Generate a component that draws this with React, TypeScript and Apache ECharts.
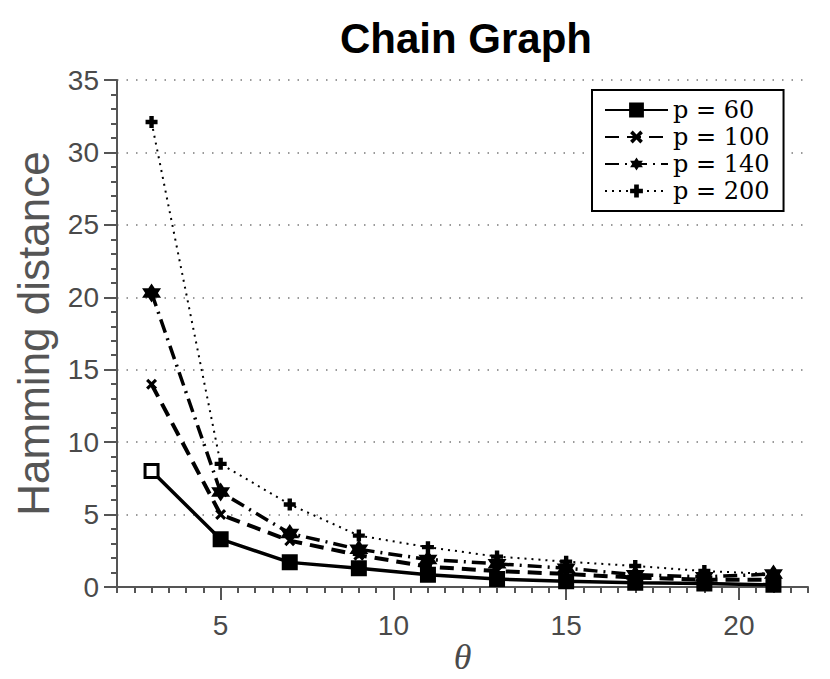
import React, { useEffect, useRef } from "react";
import * as echarts from "echarts";

const thetaValues = [3, 5, 7, 9, 11, 13, 15, 17, 19, 21];
const p60 = [8.0, 3.3, 1.7, 1.3, 0.85, 0.55, 0.4, 0.3, 0.25, 0.15];
const p100 = [14.0, 5.0, 3.2, 2.2, 1.4, 1.1, 0.9, 0.65, 0.5, 0.5];
const p140 = [20.3, 6.55, 3.7, 2.6, 1.9, 1.6, 1.3, 0.85, 0.7, 0.9];
const p200 = [32.1, 8.5, 5.7, 3.55, 2.75, 2.1, 1.75, 1.45, 1.1, 0.9];
const seriesNames = ["p = 60", "p = 100", "p = 140", "p = 200"];
const xMajorTicks = [5, 10, 15, 20];

const HEXAGRAM =
  "path://M0,-10 L2.9,-5 L8.66,-5 L5.8,0 L8.66,5 L2.9,5 L0,10 L-2.9,5 L-8.66,5 L-5.8,0 L-8.66,-5 L-2.9,-5 Z";
const PLUS =
  "path://M-2.2,-6 L2.2,-6 L2.2,-2.2 L6,-2.2 L6,2.2 L2.2,2.2 L2.2,6 L-2.2,6 L-2.2,2.2 L-6,2.2 L-6,-2.2 L-2.2,-2.2 Z";
const CROSS =
  "path://M-6,-3.6 L-3.6,-6 L0,-2.4 L3.6,-6 L6,-3.6 L2.4,0 L6,3.6 L3.6,6 L0,2.4 L-3.6,6 L-6,3.6 L-2.4,0 Z";

const AXIS_GRAY = "#555555";
const LABEL_GRAY = "#4a4a4a";

function pairs(ys: number[]) {
  return thetaValues.map((x, i) => [x, ys[i]]);
}

export default function App() {
  const ref = useRef<HTMLDivElement>(null);
  useEffect(() => {
    if (!ref.current) return;
    const chart = echarts.init(ref.current, null, { renderer: "svg" });
    const labelStyle = {
      fontFamily: "Liberation Sans",
      fontSize: 28,
      color: LABEL_GRAY,
    };
    const squareData = pairs(p60).map((d, i) =>
      i === 0
        ? { value: d, itemStyle: { color: "#ffffff" } }
        : { value: d }
    );
    chart.setOption({
      animation: false,
      backgroundColor: "#ffffff",
      title: {
        text: "Chain Graph",
        left: 335,
        top: 12,
        textStyle: {
          fontFamily: "Liberation Sans",
          fontWeight: "bold",
          fontSize: 42,
          color: "#000000",
        },
      },
      grid: {
        left: 117,
        right: 22,
        top: 80,
        bottom: 92,
        containLabel: false,
        outerBoundsMode: "none",
      },
      legend: {
        orient: "vertical",
        left: 592,
        top: 90,
        backgroundColor: "#ffffff",
        borderColor: "#000000",
        borderWidth: 2,
        borderRadius: 0,
        padding: [7, 14, 7, 12],
        itemGap: 1,
        itemWidth: 63,
        itemHeight: 16,
        data: seriesNames,
        textStyle: {
          fontFamily: "DejaVu Serif",
          fontSize: 24,
          color: "#000000",
          lineHeight: 26,
        },
      },
      xAxis: [
        {
          type: "value",
          min: 2,
          max: 22,
          interval: 0.5,
          position: "bottom",
          axisLine: { onZero: false, lineStyle: { color: AXIS_GRAY, width: 2 } },
          axisTick: { length: 6, lineStyle: { color: AXIS_GRAY, width: 2 } },
          axisLabel: { show: false },
          splitLine: { show: false },
        },
        {
          type: "value",
          min: 2,
          max: 22,
          position: "bottom",
          axisLine: { show: false, onZero: false },
          axisTick: {
            customValues: xMajorTicks,
            length: 13,
            lineStyle: { color: AXIS_GRAY, width: 2 },
          },
          axisLabel: { customValues: xMajorTicks, margin: 24, ...labelStyle },
          splitLine: { show: false },
          name: "θ",
          nameLocation: "middle",
          nameMoveOverlap: false,
          nameGap: 52,
          nameTextStyle: {
            fontFamily: "Liberation Serif",
            fontStyle: "italic",
            fontSize: 36,
            lineHeight: 36,
            color: LABEL_GRAY,
          },
        },
      ],
      yAxis: [
        {
          type: "value",
          min: 0,
          max: 35,
          interval: 1,
          position: "left",
          axisLine: { show: true, onZero: false, lineStyle: { color: AXIS_GRAY, width: 2 } },
          axisTick: { length: 6, lineStyle: { color: AXIS_GRAY, width: 2 } },
          axisLabel: {
            margin: 18,
            formatter: (v: number) => (v % 5 === 0 ? String(v) : ""),
            ...labelStyle,
          },
          splitLine: { show: false },
          name: "Hamming distance",
          nameLocation: "middle",
          nameGap: 62,
          nameRotate: 90,
          nameTextStyle: {
            fontFamily: "Liberation Sans",
            fontSize: 44,
            color: "#555555",
          },
        },
        {
          type: "value",
          min: 0,
          max: 35,
          interval: 5,
          position: "left",
          axisLine: { show: false, onZero: false },
          axisTick: { length: 13, lineStyle: { color: AXIS_GRAY, width: 2 } },
          axisLabel: { show: false },
          splitLine: {
            show: true,
            lineStyle: { color: "#7a7a7a", width: 1.5, type: [1.5, 8] },
          },
        },
      ],
      series: [
        {
          name: seriesNames[0],
          type: "line",
          data: squareData,
          symbol: "rect",
          symbolSize: 13,
          lineStyle: { color: "#000000", width: 3.5, type: "solid" },
          itemStyle: { color: "#000000", borderColor: "#000000", borderWidth: 3 },
          z: 2,
        },
        {
          name: seriesNames[1],
          type: "line",
          data: pairs(p100),
          symbol: CROSS,
          symbolSize: 11,
          lineStyle: { color: "#000000", width: 4, type: [14, 8] },
          itemStyle: { color: "#000000" },
          z: 3,
        },
        {
          name: seriesNames[2],
          type: "line",
          data: pairs(p140),
          symbol: HEXAGRAM,
          symbolSize: 19,
          lineStyle: { color: "#000000", width: 3.5, type: [14, 6, 2, 6] },
          itemStyle: { color: "#000000" },
          z: 4,
        },
        {
          name: seriesNames[3],
          type: "line",
          data: pairs(p200),
          symbol: PLUS,
          symbolSize: 12,
          lineStyle: { color: "#000000", width: 2, type: [2, 5] },
          itemStyle: { color: "#000000" },
          z: 5,
        },
      ],
    });
    return () => chart.dispose();
  }, []);
  return (
    <div
      ref={ref}
      style={{ position: "fixed", left: 0, top: 0, width: 830, height: 679 }}
    />
  );
}
